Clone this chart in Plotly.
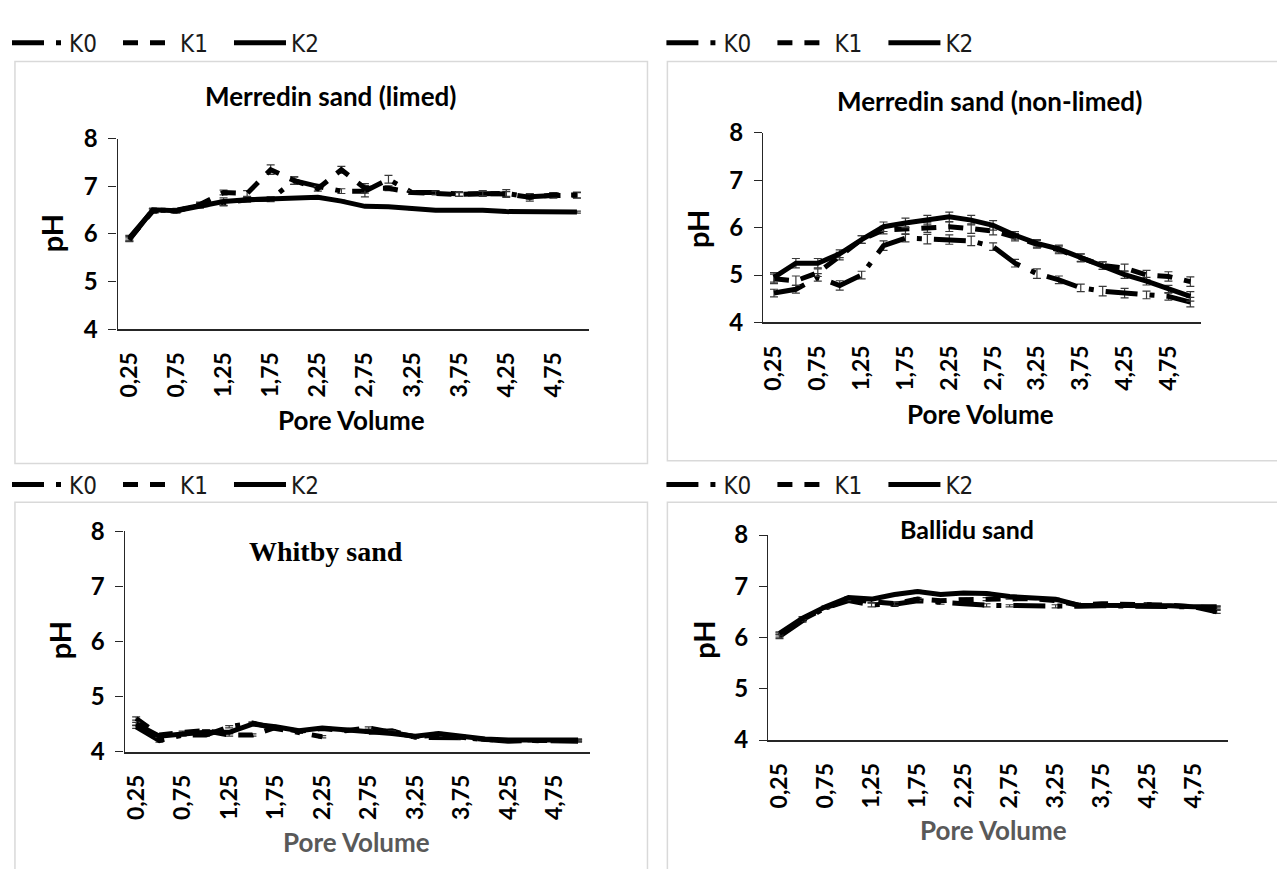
import plotly.graph_objects as go

W, H = 1277, 869

# ---------------- data ----------------
pore_volume = [0.25, 0.5, 0.75, 1.0, 1.25, 1.5, 1.75, 2.0, 2.25, 2.5,
               2.75, 3.0, 3.25, 3.5, 3.75, 4.0, 4.25, 4.5, 4.75, 5.0]
tick_vals = [0.25, 0.75, 1.25, 1.75, 2.25, 2.75, 3.25, 3.75, 4.25, 4.75]
tick_text = ["0,25", "0,75", "1,25", "1,75", "2,25", "2,75", "3,25", "3,75", "4,25", "4,75"]
series_names = ["K0", "K1", "K2"]

# Merredin sand (limed)
limed_K0 = [5.92, 6.50, 6.50, 6.60, 6.65, 6.72, 6.73, 7.12, 7.00, 6.90,
            6.90, 7.15, 6.87, 6.87, 6.84, 6.85, 6.85, 6.78, 6.81, 6.81]
limed_K1 = [5.90, 6.48, 6.48, 6.62, 6.87, 6.85, 7.35, 7.12, 6.95, 7.35,
            6.96, 6.96, 6.87, 6.86, 6.83, 6.85, 6.84, 6.77, 6.82, 6.82]
limed_K2 = [5.88, 6.51, 6.49, 6.58, 6.68, 6.72, 6.74, 6.76, 6.77, 6.69,
            6.58, 6.57, 6.53, 6.50, 6.50, 6.50, 6.47, 6.47, 6.47, 6.46]
limed_K0_err = [0.05, 0.04, 0.04, 0.05, 0.06, 0.05, 0.05, 0.08, 0.04, 0.05,
                0.12, 0.08, 0.04, 0.04, 0.05, 0.06, 0.08, 0.05, 0.06, 0.06]
limed_K1_err = [0.05, 0.04, 0.04, 0.05, 0.05, 0.06, 0.10, 0.08, 0.05, 0.07,
                0.10, 0.05, 0.04, 0.04, 0.04, 0.05, 0.05, 0.08, 0.05, 0.06]
limed_K2_err = [0.04, 0.03, 0.03, 0.03, 0.08, 0.03, 0.03, 0.02, 0.02, 0.02,
                0.02, 0.02, 0.02, 0.02, 0.02, 0.02, 0.02, 0.02, 0.02, 0.02]

# Merredin sand (non-limed)
nonlimed_K0 = [4.62, 4.70, 4.95, 4.78, 5.00, 5.62, 5.78, 5.76, 5.75, 5.72,
               5.60, 5.25, 5.03, 4.90, 4.73, 4.66, 4.62, 4.58, 4.55, 4.43]
nonlimed_K1 = [4.92, 4.88, 5.05, 5.40, 5.75, 5.95, 5.97, 6.00, 6.02, 5.98,
               5.93, 5.80, 5.65, 5.53, 5.36, 5.20, 5.15, 5.00, 4.97, 4.86]
nonlimed_K2 = [4.95, 5.25, 5.25, 5.45, 5.75, 6.02, 6.10, 6.16, 6.23, 6.16,
               6.05, 5.84, 5.67, 5.55, 5.37, 5.20, 5.01, 4.87, 4.70, 4.55]
nonlimed_K0_err = [0.08, 0.08, 0.08, 0.10, 0.08, 0.10, 0.08, 0.10, 0.10, 0.10,
                   0.08, 0.08, 0.10, 0.08, 0.08, 0.10, 0.10, 0.08, 0.08, 0.10]
nonlimed_K1_err = [0.10, 0.10, 0.08, 0.08, 0.08, 0.08, 0.10, 0.10, 0.10, 0.10,
                   0.08, 0.08, 0.08, 0.08, 0.08, 0.08, 0.08, 0.10, 0.10, 0.10]
nonlimed_K2_err = [0.10, 0.10, 0.10, 0.08, 0.08, 0.10, 0.10, 0.10, 0.10, 0.10,
                   0.10, 0.08, 0.08, 0.08, 0.08, 0.08, 0.08, 0.08, 0.08, 0.10]

# Whitby sand
whitby_K0 = [4.45, 4.20, 4.30, 4.30, 4.45, 4.52, 4.42, 4.35, 4.27, None,
             4.35, 4.38, 4.26, 4.26, 4.25, 4.22, 4.19, 4.20, 4.20, 4.19]
whitby_K1 = [4.60, 4.30, 4.35, 4.38, 4.30, 4.30, 4.44, 4.37, 4.42, 4.38,
             4.43, 4.35, 4.27, 4.30, 4.25, 4.22, 4.20, 4.20, 4.20, 4.20]
whitby_K2 = [4.50, 4.28, 4.32, 4.35, 4.35, 4.50, 4.45, 4.38, 4.43, 4.40,
             4.38, 4.33, 4.28, 4.33, 4.28, 4.23, 4.21, 4.21, 4.21, 4.21]
whitby_K0_err = [0.03, 0.03, 0.02, 0.02, 0.02, 0.02, 0.02, 0.02, 0.02, 0.02,
                 0.02, 0.02, 0.02, 0.02, 0.02, 0.02, 0.02, 0.02, 0.02, 0.02]
whitby_K1_err = [0.03, 0.02, 0.02, 0.02, 0.02, 0.02, 0.02, 0.02, 0.02, 0.02,
                 0.02, 0.02, 0.02, 0.02, 0.02, 0.02, 0.02, 0.02, 0.02, 0.02]
whitby_K2_err = [0.03, 0.02, 0.02, 0.02, 0.02, 0.02, 0.02, 0.02, 0.02, 0.02,
                 0.02, 0.02, 0.02, 0.02, 0.02, 0.02, 0.02, 0.02, 0.02, 0.02]

# Ballidu sand
ballidu_K0 = [6.02, 6.33, 6.58, 6.72, 6.64, 6.65, 6.72, 6.68, 6.66, 6.63,
              6.62, 6.62, 6.61, 6.61, 6.62, 6.62, 6.62, 6.62, 6.60, 6.50]
ballidu_K1 = [6.05, 6.35, 6.58, 6.75, 6.70, 6.66, 6.75, 6.72, 6.74, 6.75,
              6.77, 6.76, 6.72, 6.63, 6.66, 6.65, 6.66, 6.63, 6.60, 6.58]
ballidu_K2 = [6.08, 6.38, 6.60, 6.78, 6.75, 6.84, 6.90, 6.84, 6.87, 6.86,
              6.80, 6.78, 6.75, 6.63, 6.63, 6.63, 6.62, 6.62, 6.60, 6.60]
ballidu_K0_err = [0.04, 0.03, 0.02, 0.03, 0.04, 0.04, 0.03, 0.03, 0.03, 0.03,
                  0.02, 0.02, 0.03, 0.02, 0.02, 0.02, 0.02, 0.02, 0.02, 0.03]
ballidu_K1_err = [0.04, 0.03, 0.02, 0.03, 0.03, 0.03, 0.03, 0.03, 0.03, 0.03,
                  0.02, 0.02, 0.02, 0.02, 0.02, 0.02, 0.02, 0.02, 0.02, 0.03]
ballidu_K2_err = [0.03, 0.03, 0.02, 0.02, 0.02, 0.02, 0.02, 0.02, 0.02, 0.02,
                  0.02, 0.02, 0.02, 0.02, 0.02, 0.02, 0.02, 0.02, 0.02, 0.02]

# ---------------- styling ----------------
SANS = "Lato, Open Sans, DejaVu Sans, sans-serif"
NARROW = "Liberation Sans Narrow, DejaVu Sans Condensed, Roboto, sans-serif"
SERIF = "Liberation Serif, DejaVu Serif, serif"
dashes = ["32px,12px,5px,12px", "15px,12px", "solid"]

panels = [
    dict(title="Merredin sand (limed)", vals=[limed_K0, limed_K1, limed_K2],
         errs=[limed_K0_err, limed_K1_err, limed_K2_err],
         xpx=(113, 586), ypx=(127, 324), leg=(2, 28), tpos=(327, 83), tfont=SANS, tsize=26,
         ph=(47, 225), pv=(348, 418), pvcol="#000000"),
    dict(title="Merredin sand (non-limed)", vals=[nonlimed_K0, nonlimed_K1, nonlimed_K2],
         errs=[nonlimed_K0_err, nonlimed_K1_err, nonlimed_K2_err],
         xpx=(761, 1201), ypx=(121, 317), leg=(659, 28), tpos=(988, 88), tfont=SANS, tsize=26,
         ph=(695, 220), pv=(979, 412), pvcol="#000000"),
    dict(title="Whitby sand", vals=[whitby_K0, whitby_K1, whitby_K2],
         errs=[whitby_K0_err, whitby_K1_err, whitby_K2_err],
         xpx=(120, 587), ypx=(533, 761), leg=(2, 485), tpos=(322, 554), tfont=SERIF, tsize=28,
         ph=(55, 646), pv=(353, 855), pvcol="#595959"),
    dict(title="Ballidu sand", vals=[ballidu_K0, ballidu_K1, ballidu_K2],
         errs=[ballidu_K0_err, ballidu_K1_err, ballidu_K2_err],
         xpx=(766, 1228), ypx=(537, 749), leg=(659, 485), tpos=(966, 531), tfont=SANS, tsize=25,
         ph=(701, 645), pv=(992, 842), pvcol="#595959"),
]

fig = go.Figure()
annotations = []
layout_extra = {}

for i, p in enumerate(panels):
    n = i + 1
    xa = "x" if n == 1 else f"x{n}"
    ya = "y" if n == 1 else f"y{n}"
    leg = "legend" if n == 1 else f"legend{n}"
    for k, name in enumerate(series_names):
        fig.add_trace(go.Scatter(
            x=pore_volume, y=p["vals"][k], name=name, mode="lines",
            xaxis=xa, yaxis=ya, legend=leg, connectgaps=False,
            line=dict(color="#000000", width=5, dash=dashes[k]),
            error_y=dict(type="data", array=p["errs"][k], visible=True,
                         color="#3a3a3a", thickness=1.2, width=4),
        ))
    x0, x1 = p["xpx"]
    yt, yb = p["ypx"]
    layout_extra["xaxis" if n == 1 else f"xaxis{n}"] = dict(
        domain=[x0 / W, x1 / W], anchor=ya, range=[0.125, 5.125],
        tickmode="array", tickvals=tick_vals, ticktext=tick_text, tickangle=-90,
        showgrid=False, zeroline=False, showline=True, linecolor="#262626", linewidth=1.6,
        ticks="", ticklabelstandoff=12,
        tickfont=dict(family=SANS, size=23, color="#000000", weight="bold"),
    )
    layout_extra["yaxis" if n == 1 else f"yaxis{n}"] = dict(
        domain=[1 - yb / H, 1 - yt / H], anchor=xa, range=[4, 8],
        tickmode="array", tickvals=[4, 5, 6, 7, 8],
        showgrid=False, zeroline=False, showline=True, linecolor="#262626", linewidth=1.2,
        ticks="outside", ticklen=8, tickcolor="#262626", tickwidth=1.2, ticklabelstandoff=6,
        tickfont=dict(family=SANS, size=24, color="#000000", weight="bold"),
    )
    lx, ly = p["leg"]
    layout_extra[leg] = dict(
        orientation="h", x=lx / W, y=1 - ly / H, xanchor="left", yanchor="middle",
        xref="paper", yref="paper",
        bgcolor="rgba(0,0,0,0)", borderwidth=0, entrywidth=44, entrywidthmode="pixels",
        font=dict(family=NARROW, size=24, color="#1a1a1a"), itemwidth=52,
    )
    tx, ty = p["tpos"]
    annotations.append(dict(
        text=p["title"], x=tx / W, y=1 - ty / H, xref="paper", yref="paper",
        showarrow=False, xanchor="center", yanchor="middle",
        font=dict(family=p["tfont"], size=p["tsize"], color="#000000", weight="bold")))
    hx, hy = p["ph"]
    annotations.append(dict(
        text="pH", x=hx / W, y=1 - hy / H, xref="paper", yref="paper", textangle=-90,
        showarrow=False, xanchor="center", yanchor="middle",
        font=dict(family=SANS, size=29, color="#000000", weight="bold")))
    vx, vy = p["pv"]
    annotations.append(dict(
        text="Pore Volume", x=vx / W, y=1 - vy / H, xref="paper", yref="paper",
        showarrow=False, xanchor="center", yanchor="middle",
        font=dict(family=SANS, size=26, color=p["pvcol"], weight="bold")))

box = dict(type="rect", xref="paper", yref="paper", line=dict(color="#d9d9d9", width=1.5),
           fillcolor="rgba(0,0,0,0)", layer="below")
shapes = [
    dict(box, x0=10 / W, x1=645 / W, y0=1 - 463 / H, y1=1 - 47 / H),
    dict(box, x0=665 / W, x1=1320 / W, y0=1 - 460 / H, y1=1 - 47 / H),
    dict(box, x0=10 / W, x1=645 / W, y0=1 - 920 / H, y1=1 - 503 / H),
    dict(box, x0=665 / W, x1=1320 / W, y0=1 - 920 / H, y1=1 - 503 / H),
]

fig.update_layout(
    width=W, height=H, autosize=False,
    margin=dict(l=0, r=0, t=0, b=0, pad=0),
    paper_bgcolor="#ffffff", plot_bgcolor="rgba(0,0,0,0)",
    annotations=annotations, shapes=shapes,
    **layout_extra,
)

fig.write_html("out.html")
